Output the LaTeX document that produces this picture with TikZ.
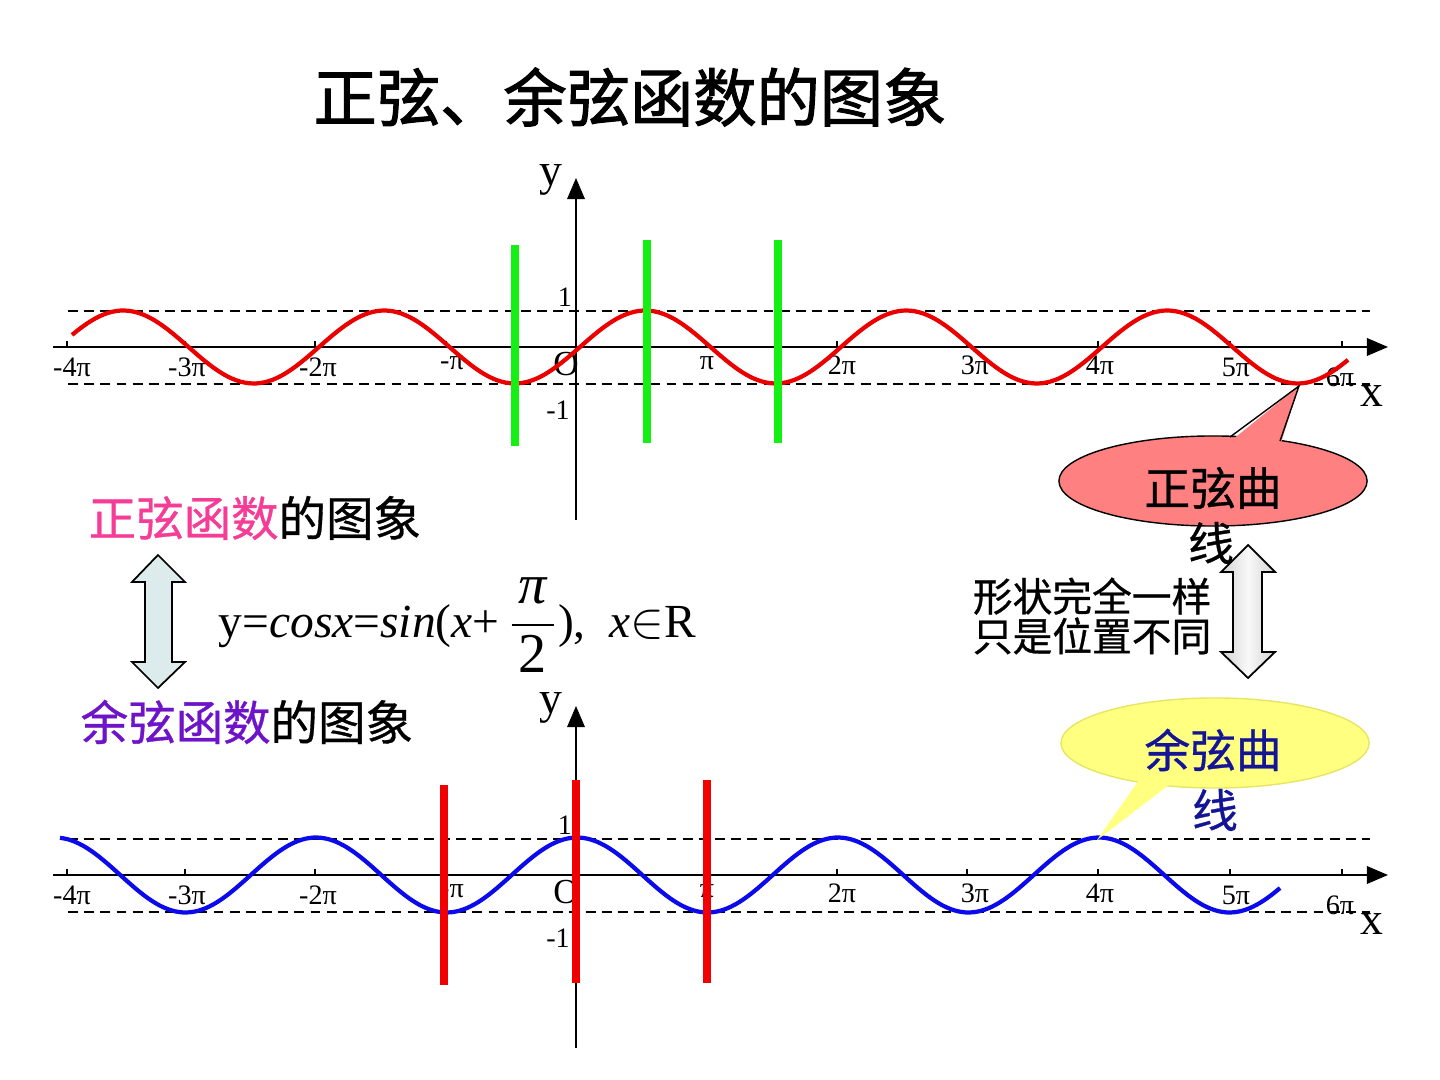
\documentclass[tikz,border=0pt]{standalone}
\usepackage{fontspec}
\usepackage{amsmath}
\setmainfont{Liberation Serif}
\newfontfamily\hei[FakeBold=0.7]{Noto Sans CJK SC}
\newfontfamily\heititle[FakeBold=1.6]{Noto Sans CJK SC}
\usetikzlibrary{arrows.meta,shapes.geometric}
\definecolor{sinred}{RGB}{235,0,0}
\definecolor{cosblue}{RGB}{10,10,235}
\definecolor{bargreen}{RGB}{20,240,20}
\definecolor{barred}{RGB}{240,0,0}
\definecolor{pinktext}{RGB}{245,60,150}
\definecolor{purpletext}{RGB}{110,20,200}
\definecolor{navytext}{RGB}{20,20,150}
\definecolor{pinkfill}{RGB}{255,128,128}
\definecolor{yellowfill}{RGB}{255,255,128}
\definecolor{yellowline}{RGB}{230,230,100}
\definecolor{cyanfill}{RGB}{220,236,236}
\newcommand{\fsz}[1]{\fontsize{#1}{#1}\selectfont}

\begin{document}
\begin{tikzpicture}[x=0.01cm,y=-0.01cm,
  axis/.style={line width=0.5pt,-{Triangle[length=6pt,width=5pt]}},
  guide/.style={line width=0.4pt,dash pattern=on 2.8pt off 1.8pt},
  tickmark/.style={line width=0.4pt},
  lab/.style={inner sep=0pt,font=\fsz{8}},
  bar/.style={line width=2pt},
  wave/.style={line width=1.2pt,smooth,samples=160},
  bubble/.style={ellipse,minimum width=3.08cm,minimum height=0.9cm,inner sep=0pt},
  cjk/.style={inner sep=0pt,font=\hei\fsz{13.5}}]
\useasboundingbox (0,0) rectangle (1440,1080);
\node at (630,97) (title) {\heititle\fsz{18}正弦、余弦函数的图象};

\foreach \dy in {0,528} {
  \coordinate (xs\dy) at (53,347+\dy);
  \coordinate (xe\dy) at (1388,347+\dy);
  \coordinate (ys\dy) at (576,520+\dy);
  \coordinate (ye\dy) at (576,178+\dy);
  \draw[guide] (68,311+\dy) -- (1370,311+\dy);
  \draw[guide] (68,384+\dy) -- (1370,384+\dy);
  \draw[axis] (xs\dy) -- (xe\dy);
  \draw[axis] (ys\dy) -- (ye\dy);
  \foreach \tx in {67,185,315,446,706,837,967,1098,1230,1342}
    \draw[tickmark] (\tx,347+\dy) -- (\tx,341+\dy);
  \foreach \t/\lx/\ly in {-4π/72/367,-3π/187/367,-2π/318/367,-π/452/363,π/707/363,2π/842/365,3π/975/365,4π/1100/365,5π/1236/367,6π/1340/377}
    \node[lab] at (\lx,\ly+\dy) (lab\lx-\dy) {\t};
  \node[lab] at (566,364+\dy) (o\dy) {\fsz{10}O};
  \node[lab] at (565,297+\dy) (one\dy) {1};
  \node[lab] at (558,410+\dy) (mone\dy) {-1};
  \node[lab] at (551,180+\dy) (y\dy) {\fsz{13}y};
  \node[lab] at (1372,396+\dy) (x\dy) {\fsz{13}x};
}

\draw[wave,sinred,domain=-508:768] plot ({580+\x},{347-36.5*sin(\x/130.5*180)});
\draw[wave,cosblue,domain=-517:703] plot ({577+\x},{875-37.5*cos(\x/130.5*180)});

\draw[bar,bargreen] (515,245) -- (515,446);
\draw[bar,bargreen] (647,240) -- (647,443);
\draw[bar,bargreen] (778,240) -- (778,443);
\draw[bar,barred] (444,785) -- (444,985);
\draw[bar,barred] (576,780) -- (576,983);
\draw[bar,barred] (707,780) -- (707,983);

\node[cjk,anchor=west] at (88,518) (sinname) {\color{pinktext}正弦函数\color{black}的图象};
\node[cjk,anchor=west] at (80,722) (cosname) {\color{purpletext}余弦函数\color{black}的图象};
\draw[fill=cyanfill,line width=0.5pt] (158,555) -- (185,582) -- (172,582) -- (172,662) -- (185,662) -- (158,688)
  -- (132,662) -- (145,662) -- (145,582) -- (132,582) -- cycle;
\node[inner sep=0pt,anchor=base west,font=\fsz{13.5}] at (218,638) (formula)
  {y=\textit{cosx}=\textit{sin}(\textit{x}+\,$\dfrac{\text{\fsz{16}\itshape\kern2pt π\kern2pt}}{\text{\fsz{16}2}}$),\ \ \textit{x}$\in$R};

\coordinate (tipsin) at (1299,386);
\node[bubble,fill=pinkfill,draw,line width=0.4pt] at (1213,481) (zx) {};
\fill[pinkfill] (1232,440) -- (tipsin) -- (1280,446) -- cycle;
\draw[line width=0.4pt] (1230,437) -- (tipsin) -- (1280,441);
\node[cjk,font=\hei\fsz{13}] at (1213,488) (zxtext) {正弦曲};
\node[cjk,font=\hei\fsz{13}] at (1211,543) (zxtext2) {线};

\draw[left color=gray!35,right color=gray!35,middle color=gray!5,line width=0.5pt] (1248,545) -- (1275,572) -- (1262,572) -- (1262,652) -- (1275,652) -- (1248,678)
  -- (1221,652) -- (1233,652) -- (1233,572) -- (1221,572) -- cycle;
\node[cjk,font=\hei\fsz{11.3},align=left,anchor=east] at (1212,616) (same) {形状完全一样\\只是位置不同};

\coordinate (tipcos) at (1097,840);
\node[bubble,fill=yellowfill,draw=yellowline,line width=0.4pt] at (1215,743) (yx) {};
\fill[yellowfill] (1146,770) -- (tipcos) -- (1182,775) -- cycle;
\node[cjk,font=\hei\fsz{13},text=navytext] at (1213,750) (yxtext) {余弦曲};
\node[cjk,font=\hei\fsz{13},text=navytext] at (1215,810) (yxtext2) {线};
\end{tikzpicture}
\end{document}
